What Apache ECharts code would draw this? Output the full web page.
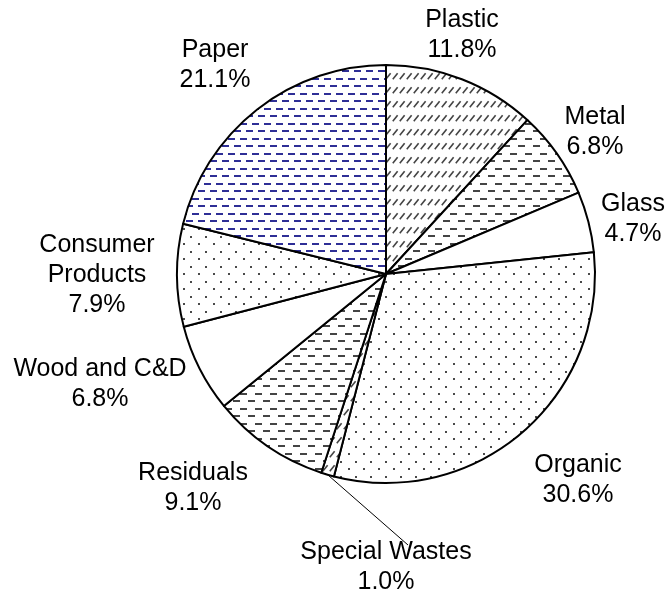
<!DOCTYPE html>
<html>
<head>
<meta charset="utf-8">
<script src="https://cdn.jsdelivr.net/npm/echarts@6/dist/echarts.min.js"></script>
<style>html,body{margin:0;padding:0;background:#fff}#c{width:668px;height:598px}</style>
</head>
<body>
<div id="c"></div>
<script>
const categories = ['Plastic','Metal','Glass','Organic','Special Wastes','Residuals','Wood and C&D','Consumer\nProducts','Paper'];
const values = [11.8, 6.8, 4.7, 30.6, 1.0, 9.1, 6.8, 7.9, 21.1];
const fillKinds = ['diag','dash','none','dots','diag','dash','none','dots','bluedash'];
// label block centres (x, y)
const labelPos = [[462,35],[595,132],[633,219],[578,480],[386,567],[193,488],[100,384],[97,275],[215,65]];

function makeTile(kind){
  const c = document.createElement('canvas');
  const ctx = c.getContext('2d');
  if(kind==='diag'){
    c.width=7; c.height=14;
    ctx.fillStyle='#fff'; ctx.fillRect(0,0,7,14);
    ctx.strokeStyle='#444'; ctx.lineWidth=1.6;
    ctx.beginPath(); ctx.moveTo(0.8,9.2); ctx.lineTo(5.6,3.2); ctx.stroke();
  } else if(kind==='dash'){
    c.width=15; c.height=15;
    ctx.fillStyle='#fff'; ctx.fillRect(0,0,15,15);
    ctx.fillStyle='#444';
    ctx.fillRect(0,3,7,2); ctx.fillRect(8,10,7,2);
  } else if(kind==='bluedash'){
    c.width=12; c.height=15;
    ctx.fillStyle='#fff'; ctx.fillRect(0,0,12,15);
    ctx.fillStyle='#2e2e96';
    ctx.fillRect(0,3,7,2); ctx.fillRect(6,10,6,2); ctx.fillRect(0,10,1,2);
  } else if(kind==='dots'){
    c.width=15; c.height=15;
    ctx.fillStyle='#fff'; ctx.fillRect(0,0,15,15);
    ctx.fillStyle='#4a4a4a';
    ctx.fillRect(3,3,2,2); ctx.fillRect(10,11,2,2);
  } else {
    c.width=4; c.height=4;
    ctx.fillStyle='#fff'; ctx.fillRect(0,0,4,4);
  }
  return {image:c, repeat:'repeat'};
}

const data = categories.map((n,i)=>({
  name:n, value:values[i],
  itemStyle:{color: makeTile(fillKinds[i])},
  labelLine:{show: i===4, lineStyle:{color:'#000', width:1}}
}));

const chart = echarts.init(document.getElementById('c'), null, {renderer:'canvas'});
chart.setOption({
  animation:false,
  backgroundColor:'#fff',
  series:[{
    type:'pie',
    center:[386,274],
    radius:[0,209],
    startAngle:90,
    clockwise:true,
    avoidLabelOverlap:false,
    silent:true,
    itemStyle:{borderColor:'#000', borderWidth:2},
    label:{
      show:true, position:'outside', color:'#000',
      fontFamily:'Liberation Sans, Arial, sans-serif', fontSize:25, lineHeight:30,
      align:'center',
      formatter:p=>p.name+'\n'+p.value.toFixed(1)+'%'
    },
    labelLine:{show:false, length:10, length2:10},
    labelLayout:function(params){
      const p = labelPos[params.dataIndex];
      const out = {x:p[0], y:p[1], align:'center', verticalAlign:'middle'};
      if(params.dataIndex===4 && params.labelLinePoints){
        const a = params.labelLinePoints[0];
        out.labelLinePoints = [a,[408,545],[408,545]];
      }
      return out;
    },
    data:data
  }]
});
</script>
</body>
</html>
